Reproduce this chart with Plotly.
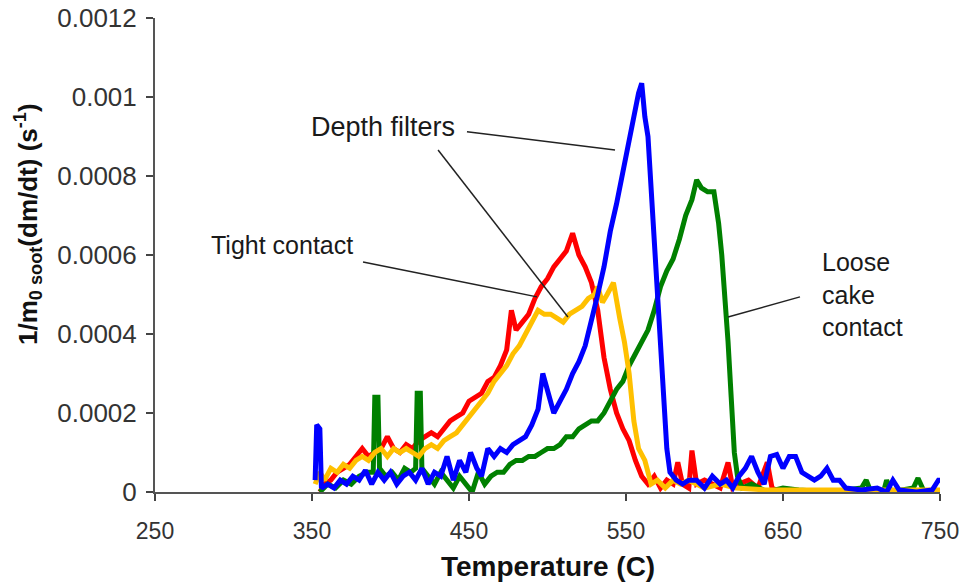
import plotly.graph_objects as go

# Temperatures (C) and rates (in units of 1e-4 s^-1)
red_T = [355, 358, 362, 366, 370, 374, 378, 382, 386, 390, 394, 398, 402, 406, 410, 414, 418, 422, 426, 430,
         434, 438, 442, 446, 450, 454, 458, 462, 466, 470, 474, 477, 480, 484, 488, 492, 496, 500, 504, 508,
         512, 516, 520, 524, 528, 532, 536, 540, 544, 548, 552, 556, 560, 564, 568, 572, 576, 580, 583, 586,
         590, 592, 595, 600, 605, 610, 615, 618, 622, 628, 634, 640, 643, 648, 655, 665, 680, 700, 720, 750]
red_v = [0.0, 0.2, 0.3, 0.5, 0.6, 0.7, 0.9, 1.1, 0.9, 1.0, 1.1, 1.4, 1.1, 1.0, 1.2, 1.1, 1.3, 1.4, 1.5, 1.4,
         1.6, 1.8, 1.9, 2.0, 2.3, 2.4, 2.5, 2.8, 2.9, 3.2, 3.6, 4.6, 4.1, 4.3, 4.5, 4.9, 5.2, 5.4, 5.7, 5.9,
         6.1, 6.55, 6.0, 5.7, 5.3, 4.6, 3.4, 2.6, 2.0, 1.6, 1.3, 0.8, 0.4, 0.2, 0.4, 0.1, 0.3, 0.2, 0.75, 0.2,
         0.1, 1.05, 0.2, 0.3, 0.2, 0.1, 0.75, 0.1, 0.2, 0.3, 0.1, 0.75, 0.1, 0.0, 0.0, 0.0, 0.0, 0.0, 0.0, 0.0]

yellow_T = [352, 355, 358, 362, 366, 370, 374, 378, 382, 386, 390, 394, 398, 402, 406, 410, 414, 418, 422, 426,
            430, 434, 438, 442, 446, 450, 454, 458, 462, 466, 470, 474, 478, 482, 486, 490, 494, 498, 502, 506,
            510, 514, 518, 522, 526, 530, 532, 535, 538, 542, 546, 549, 552, 555, 558, 562, 566, 570, 575, 580,
            585, 590, 600, 610, 620, 640, 660, 700, 750]
yellow_v = [0.2, 0.5, 0.3, 0.6, 0.5, 0.7, 0.6, 0.8, 0.9, 0.8, 1.0, 1.1, 0.9, 1.1, 1.0, 1.1, 1.0, 0.9, 1.1, 1.2,
            1.1, 1.3, 1.4, 1.5, 1.7, 1.9, 2.1, 2.3, 2.5, 2.8, 3.0, 3.2, 3.5, 3.7, 4.0, 4.3, 4.6, 4.5, 4.5, 4.4,
            4.3, 4.5, 4.6, 4.7, 4.9, 5.0, 5.2, 4.8, 5.0, 5.3, 4.4, 3.8, 3.0, 1.8, 1.1, 0.8, 0.2, 0.3, 0.1, 0.3,
            0.2, 0.3, 0.1, 0.2, 0.1, 0.05, 0.05, 0.05, 0.05]

blue_T = [352, 353, 355, 356, 360, 364, 368, 372, 376, 380, 384, 388, 392, 396, 400, 404, 408, 412, 416, 420,
          424, 428, 432, 436, 440, 444, 448, 451, 455, 458, 462, 466, 470, 474, 478, 482, 486, 490, 494, 497,
          500, 504, 508, 512, 516, 520, 524, 528, 532, 536, 540, 544, 548, 552, 555, 558, 560, 562, 564, 566,
          568, 570, 572, 574, 576, 578, 582, 586, 590, 595, 600, 605, 610, 614, 618, 622, 626, 630, 634, 638,
          642, 646, 650, 654, 658, 662, 666, 670, 674, 678, 682, 686, 690, 700, 710, 716, 720, 724, 735, 745,
          749, 750]
blue_v = [0.3, 1.7, 1.6, 0.1, 0.2, 0.1, 0.3, 0.2, 0.4, 0.3, 0.55, 0.2, 0.5, 0.3, 0.5, 0.2, 0.4, 0.5, 0.3, 0.6,
          0.2, 0.5, 0.4, 0.9, 0.3, 0.8, 0.5, 1.0, 0.6, 0.4, 1.1, 0.9, 1.1, 1.0, 1.2, 1.3, 1.4, 1.7, 2.1, 3.0,
          2.6, 2.0, 2.3, 2.6, 3.0, 3.3, 3.7, 4.3, 5.0, 5.7, 6.6, 7.3, 8.1, 9.0, 9.6, 10.1, 10.35, 9.5, 9.0, 7.6,
          6.4, 5.2, 3.8, 2.4, 1.1, 0.5, 0.3, 0.2, 0.3, 0.3, 0.1, 0.4, 0.2, 0.3, 0.1, 0.4, 0.6, 0.9, 0.5, 0.2,
          0.9, 0.95, 0.6, 0.9, 0.9, 0.5, 0.4, 0.3, 0.4, 0.6, 0.3, 0.3, 0.1, 0.05, 0.1, 0.0, 0.3, 0.05, 0.0, 0.05,
          0.3, 0.3]

green_T = [355, 360, 365, 370, 375, 380, 385, 389, 390, 392, 393, 397, 401, 405, 409, 413, 416, 417, 419, 420,
           424, 428, 432, 436, 440, 444, 448, 452, 456, 460, 464, 468, 472, 476, 480, 484, 488, 492, 496, 500,
           504, 508, 512, 516, 520, 524, 528, 532, 536, 540, 544, 548, 552, 556, 560, 564, 568, 572, 576, 580,
           584, 588, 592, 595, 598, 602, 606, 609, 611, 613, 615, 617, 619, 621, 624, 630, 640, 650, 660, 680,
           700, 703, 706, 714, 716, 719, 733, 736, 740, 750]
green_v = [0.0, 0.2, 0.1, 0.3, 0.2, 0.4, 0.5, 0.5, 2.4, 2.4, 0.6, 0.4, 0.5, 0.3, 0.6, 0.5, 0.6, 2.5, 2.5, 0.6,
           0.4, 0.2, 0.5, 0.3, 0.1, 0.4, 0.2, 0.0, 0.5, 0.2, 0.4, 0.5, 0.5, 0.7, 0.8, 0.8, 0.9, 0.9, 1.0, 1.1,
           1.1, 1.2, 1.4, 1.4, 1.6, 1.7, 1.8, 1.8, 2.0, 2.3, 2.6, 2.8, 3.2, 3.5, 3.8, 4.1, 4.6, 5.2, 5.6, 5.9,
           6.4, 7.0, 7.4, 7.9, 7.7, 7.6, 7.6, 6.8, 6.0, 5.0, 3.8, 2.4, 1.0, 0.4, 0.1, 0.2, 0.0, 0.1, 0.05, 0.0,
           0.1, 0.3, 0.0, 0.0, 0.3, 0.0, 0.1, 0.35, 0.0, 0.0]

UNIT = 1e-4
x_ticks = [250, 350, 450, 550, 650, 750]
y_ticks = [0, 0.0002, 0.0004, 0.0006, 0.0008, 0.001, 0.0012]
y_tick_text = ["0", "0.0002", "0.0004", "0.0006", "0.0008", "0.001", "0.0012"]

FONT = "Liberation Sans, Arial, sans-serif"

fig = go.Figure()
series = [
    (red_T, red_v, "#FF0000"),
    (green_T, green_v, "#008000"),
    (yellow_T, yellow_v, "#FFC000"),
    (blue_T, blue_v, "#0000FF"),
]
for T, v, c in series:
    fig.add_trace(go.Scatter(x=T, y=[a * UNIT for a in v], mode="lines",
                             line=dict(color=c, width=5), showlegend=False,
                             hoverinfo="skip"))

# annotation leader lines (data coordinates)
leaders = [
    (382.5, 5.82e-4, 493.3, 4.94e-4),
    (448.7, 9.12e-4, 543.0, 8.66e-4),
    (430.3, 8.66e-4, 513.0, 4.43e-4),
    (660.8, 4.94e-4, 615.0, 4.43e-4),
]
for x0, y0, x1, y1 in leaders:
    fig.add_shape(type="line", x0=x0, y0=y0, x1=x1, y1=y1, xref="x", yref="y",
                  line=dict(color="#222222", width=1.5))

def afont(size):
    return dict(family=FONT, size=size, color="#1a1a1a")

fig.add_annotation(x=331, y=6.25e-4, text="Tight contact", showarrow=False, font=afont(25),
                   xanchor="center", yanchor="middle")
fig.add_annotation(x=395, y=9.24e-4, text="Depth filters", showarrow=False, font=afont(27),
                   xanchor="center", yanchor="middle")
fig.add_annotation(x=673.6, y=5.01e-4, text="Loose<br>cake<br>contact", showarrow=False,
                   font=afont(25), xanchor="left", yanchor="middle", align="left")

# axis titles
fig.add_annotation(xref="paper", yref="paper", x=0.5, y=-0.158, text="<b>Temperature (C)</b>",
                   showarrow=False, font=dict(family=FONT, size=28, color="#111111"),
                   xanchor="center", yanchor="middle")
fig.add_annotation(xref="paper", yref="paper", x=-0.162, y=0.565,
                   text="<b>1/m<sub>0 soot</sub>(dm/dt) (s<sup>-1</sup>)</b>",
                   showarrow=False, textangle=-90, font=dict(family=FONT, size=26, color="#111111"),
                   xanchor="center", yanchor="middle")

fig.update_layout(
    width=965, height=586,
    margin=dict(l=155, r=25, t=18, b=94),
    plot_bgcolor="white", paper_bgcolor="white",
    font=dict(family=FONT),
)
fig.update_xaxes(
    range=[250, 750], tickvals=x_ticks, ticktext=[str(t) for t in x_ticks],
    showgrid=False, zeroline=False, showline=True, linecolor="#555555", linewidth=2,
    ticks="outside", ticklen=7, tickwidth=1.5, tickcolor="#444444",
    tickfont=dict(size=23, color="#333333"), ticklabelstandoff=10, automargin=False,
)
fig.update_yaxes(
    range=[0, 0.0012], tickvals=y_ticks, ticktext=y_tick_text,
    showgrid=False, zeroline=False, showline=True, linecolor="#555555", linewidth=2,
    ticks="outside", ticklen=7, tickwidth=1.5, tickcolor="#444444",
    tickfont=dict(size=26, color="#333333"), ticklabelstandoff=4, automargin=False,
)

fig.write_html("out.html", config={"displayModeBar": False},
               post_script="document.body.style.margin='0px';")
